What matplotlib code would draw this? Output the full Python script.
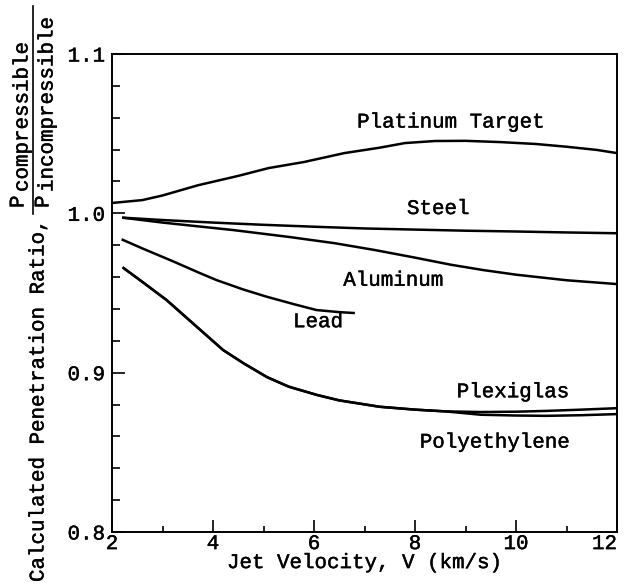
import matplotlib
matplotlib.use('Agg')
import matplotlib.pyplot as plt
import matplotlib.patheffects as pe
from matplotlib.lines import Line2D

plt.rcParams['font.family'] = ['Liberation Mono', 'DejaVu Sans Mono']

# valores
platina_x = [2.0, 2.6, 3.0, 3.7, 4.5, 5.1, 5.8, 6.6, 7.3, 7.8, 8.4, 9.0, 9.7, 10.4, 11.0, 11.6, 12.0]
platina_y = [1.0065, 1.0083, 1.0112, 1.0176, 1.0235, 1.0284, 1.0322, 1.0378, 1.0412, 1.0441, 1.0454, 1.0455, 1.0447, 1.0435, 1.0418, 1.0398, 1.0378]

aco_x = [2.2, 3.0, 4.0, 5.0, 6.0, 7.0, 8.0, 9.0, 10.0, 11.0, 12.0]
aco_y = [0.9973, 0.9958, 0.9942, 0.9928, 0.9916, 0.9905, 0.9898, 0.9891, 0.9886, 0.9880, 0.9875]

aluminio_x = [2.2, 3.0, 4.4, 5.5, 6.4, 7.2, 8.0, 8.7, 9.35, 10.0, 11.0, 12.0]
aluminio_y = [0.9973, 0.9942, 0.9895, 0.9852, 0.9813, 0.9770, 0.9722, 0.9678, 0.9644, 0.9615, 0.9580, 0.9556]

chumbo_x = [2.19, 2.6, 3.2, 3.74, 4.07, 4.6, 5.06, 5.6, 6.05, 6.5, 6.81]
chumbo_y = [0.9837, 0.9780, 0.9700, 0.9625, 0.9581, 0.9522, 0.9477, 0.9430, 0.9393, 0.9380, 0.9374]

comum_x = [2.21, 2.6, 3.08, 3.6, 4.2, 4.6, 5.07, 5.5, 6.06, 6.5, 7.3, 8.0, 8.6]
comum_y = [0.9661, 0.9570, 0.9456, 0.9310, 0.9142, 0.9060, 0.8972, 0.8912, 0.8860, 0.8826, 0.8786, 0.8768, 0.8757]

plexi_x = comum_x + [9.3, 10.0, 10.6, 11.3, 12.0]
plexi_y = comum_y + [0.8753, 0.8755, 0.8760, 0.8768, 0.8777]

polie_x = comum_x + [9.0, 9.3, 10.0, 10.6, 11.3, 12.0]
polie_y = comum_y + [0.8745, 0.8736, 0.8731, 0.8729, 0.8733, 0.8740]

rotulos = ['Platinum Target', 'Steel', 'Aluminum', 'Lead', 'Plexiglas', 'Polyethylene']
rotulos_x = [8.71, 8.46, 7.57, 6.08, 9.94, 9.58]
rotulos_y = [1.0573, 1.003, 0.958, 0.932, 0.888, 0.8564]

W, H = 624, 586
fig = plt.figure(figsize=(W / 100, H / 100), dpi=100)
ax = fig.add_axes([112 / W, 1 - 532 / H, (617 - 112) / W, (532 - 54) / H])

lw = 1.8
for xs, ys in [(platina_x, platina_y), (aco_x, aco_y), (aluminio_x, aluminio_y),
               (chumbo_x, chumbo_y), (plexi_x, plexi_y), (polie_x, polie_y)]:
    ax.plot(xs, ys, color='black', lw=lw, solid_capstyle='butt')

fs = 15
grosso = [pe.withStroke(linewidth=0.3, foreground='black')]
for txt, tx, ty in zip(rotulos, rotulos_x, rotulos_y):
    ax.text(tx, ty, txt, ha='center', va='center', fontsize=fs, path_effects=grosso)

ax.set_xlim(2, 12)
ax.set_ylim(0.8, 1.1)
ax.set_xticks([2, 4, 6, 8, 10, 12])
ax.set_xticks([3, 5, 7, 9, 11], minor=True)
ax.set_yticks([0.8, 0.9, 1.0, 1.1])
ax.set_yticks([0.82, 0.84, 0.86, 0.88, 0.92, 0.94, 0.96, 0.98, 1.02, 1.04, 1.06, 1.08], minor=True)
ax.set_yticklabels(['0.8', '0.9', '1.0', '1.1'])

ax.tick_params(axis='x', which='major', direction='in', length=8.6, width=1.2, pad=1.5, labelsize=fs)
ax.tick_params(axis='x', which='minor', direction='in', length=4.3, width=1.2)
ax.tick_params(axis='y', which='major', direction='in', length=9.5, width=1.2, pad=5, labelsize=fs)
ax.tick_params(axis='y', which='minor', direction='in', length=5.8, width=1.2)
for s in ax.spines.values():
    s.set_linewidth(1.4)
for lab in ax.get_xticklabels() + ax.get_yticklabels():
    lab.set_path_effects(grosso)
ax.get_xticklabels()[-1].set_horizontalalignment('right')

ax.set_xlabel('Jet Velocity, V (km/s)', fontsize=fs, labelpad=0, path_effects=grosso)

# rotulo do eixo y com a fracao
fig.text(38 / W, 1 - 582 / H, 'Calculated Penetration Ratio,', rotation=90,
         ha='center', va='bottom', fontsize=fs, path_effects=grosso)
fig.text(18 / W, 1 - 208 / H, 'P', rotation=90, ha='center', va='bottom', fontsize=fs, path_effects=grosso)
fig.text(22 / W, 1 - 192 / H, 'compressible', rotation=90, ha='center', va='bottom', fontsize=fs,
         path_effects=grosso)
fig.add_artist(Line2D([33 / W, 33 / W], [1 - 214 / H, 1 - 6 / H], color='black', lw=1.2))
fig.text(43 / W, 1 - 208 / H, 'P', rotation=90, ha='center', va='bottom', fontsize=fs, path_effects=grosso)
fig.text(47 / W, 1 - 192 / H, 'incompressible', rotation=90, ha='center', va='bottom', fontsize=fs,
         path_effects=grosso)

fig.savefig('out.png', dpi=100)
